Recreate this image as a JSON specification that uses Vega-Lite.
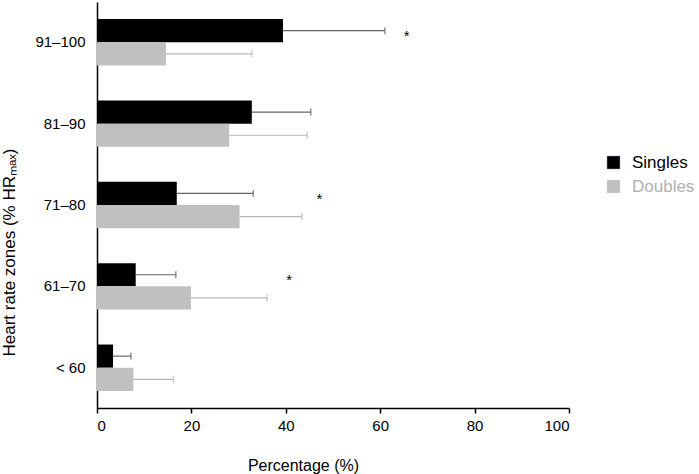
{
  "$schema": "https://vega.github.io/schema/vega-lite/v6.json",
  "width": 472,
  "height": 406,
  "autosize": "none",
  "padding": {"left": 97, "top": 2, "right": 130, "bottom": 66},
  "background": "white",
  "config": {
    "font": "Liberation Sans",
    "view": {"stroke": null},
    "axis": {"labelFont": "Liberation Sans", "titleFont": "Liberation Sans", "labelColor": "#000", "titleColor": "#000", "titleFontWeight": "normal", "domainColor": "#000", "tickColor": "#000"}
  },
  "datasets": {
    "bars": [
      {"zone": "91–100", "group": "Singles", "value": 39.4, "upper": 61.0},
      {"zone": "91–100", "group": "Doubles", "value": 14.6, "upper": 32.8},
      {"zone": "81–90", "group": "Singles", "value": 32.8, "upper": 45.3},
      {"zone": "81–90", "group": "Doubles", "value": 28.0, "upper": 44.5},
      {"zone": "71–80", "group": "Singles", "value": 16.9, "upper": 33.1},
      {"zone": "71–80", "group": "Doubles", "value": 30.2, "upper": 43.4},
      {"zone": "61–70", "group": "Singles", "value": 8.2, "upper": 16.7},
      {"zone": "61–70", "group": "Doubles", "value": 19.9, "upper": 36.0},
      {"zone": "< 60", "group": "Singles", "value": 3.4, "upper": 7.2},
      {"zone": "< 60", "group": "Doubles", "value": 7.7, "upper": 16.2}
    ],
    "stars": [
      {"zone": "91–100", "pos": 65.6, "mark": "*"},
      {"zone": "71–80", "pos": 47.1, "mark": "*"},
      {"zone": "61–70", "pos": 40.7, "mark": "*"}
    ]
  },
  "encoding": {
    "y": {
      "field": "zone",
      "type": "nominal",
      "sort": ["91–100", "81–90", "71–80", "61–70", "< 60"],
      "scale": {"paddingInner": 0.43, "paddingOuter": 0.21},
      "axis": {"title": "Heart rate zones (% HRₘₐₓ)", "ticks": false, "labelPadding": 12, "labelFontSize": 15, "titleFontSize": 17, "titlePadding": 16, "titleY": 250, "domainWidth": 1.5}
    }
  },
  "layer": [
    {
      "data": {"name": "bars"},
      "mark": {"type": "bar"},
      "encoding": {
        "x": {
          "field": "value",
          "type": "quantitative",
          "scale": {"domain": [0, 100]},
          "axis": {"title": "Percentage (%)", "values": [0, 20, 40, 60, 80, 100], "grid": false, "tickSize": 5, "labelFontSize": 15, "titleFontSize": 16, "titlePadding": 24, "titleX": 206, "labelPadding": 5, "domainWidth": 1.5, "tickWidth": 1.5}
        },
        "yOffset": {"field": "group", "type": "nominal", "sort": ["Singles", "Doubles"], "scale": {"paddingInner": 0, "paddingOuter": 0}},
        "color": {
          "field": "group",
          "type": "nominal",
          "sort": ["Singles", "Doubles"],
          "scale": {"domain": ["Singles", "Doubles"], "range": ["#000000", "#c0c0c0"]},
          "legend": {
            "title": null,
            "orient": "none",
            "legendX": 508,
            "legendY": 152,
            "symbolType": "square",
            "symbolSize": 150,
            "labelFontSize": 17,
            "labelFont": "Liberation Sans",
            "rowPadding": 6,
            "labelOffset": 10,
            "encode": {
              "labels": {"update": {"fill": {"signal": "datum.label === 'Singles' ? '#000000' : '#b0b0b0'"}}},
              "symbols": {"update": {"stroke": {"signal": "datum.label === 'Singles' ? '#1a2040' : '#c0c0c0'"}, "strokeWidth": {"value": 1}}}
            }
          }
        }
      }
    },
    {
      "data": {"name": "bars"},
      "mark": {"type": "rule", "strokeWidth": 1.2},
      "encoding": {
        "x": {"field": "value", "type": "quantitative"},
        "x2": {"field": "upper"},
        "yOffset": {"field": "group", "type": "nominal", "sort": ["Singles", "Doubles"]},
        "color": {"condition": {"test": "datum.group === 'Singles'", "value": "#666666"}, "value": "#b5b5b5"}
      }
    },
    {
      "data": {"name": "bars"},
      "mark": {"type": "tick", "orient": "vertical", "size": 7, "thickness": 1.5},
      "encoding": {
        "x": {"field": "upper", "type": "quantitative"},
        "yOffset": {"field": "group", "type": "nominal", "sort": ["Singles", "Doubles"]},
        "color": {"condition": {"test": "datum.group === 'Singles'", "value": "#666666"}, "value": "#b5b5b5"}
      }
    },
    {
      "data": {"name": "stars"},
      "mark": {"type": "text", "fontSize": 15, "dy": -6, "color": "#000", "font": "Liberation Sans"},
      "encoding": {
        "x": {"field": "pos", "type": "quantitative"},
        "text": {"field": "mark"}
      }
    }
  ]
}
